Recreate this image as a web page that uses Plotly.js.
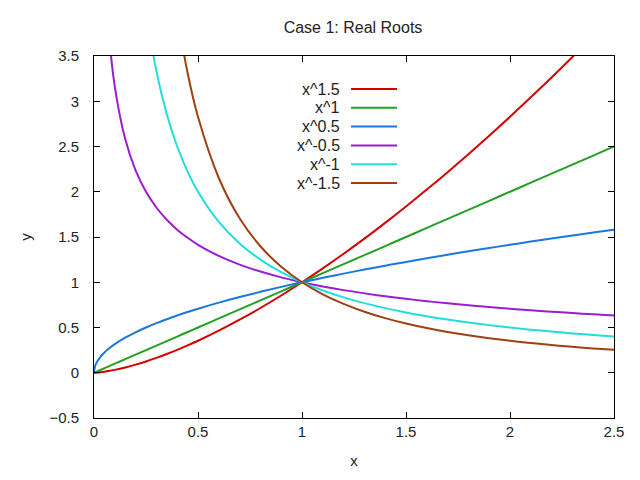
<!DOCTYPE html>
<html>
<head>
<meta charset="utf-8">
<script src="https://cdn.plot.ly/plotly-3.0.1.min.js"></script>
<style>html,body{margin:0;padding:0;background:#fff;}#chart{width:640px;height:480px;}</style>
</head>
<body>
<div id="chart"></div>
<script>
var xs = [0, 0.005, 0.01, 0.02, 0.03, 0.05, 0.07, 0.1, 0.15, 0.2, 0.25, 0.3, 0.35, 0.4, 0.45, 0.5, 0.6, 0.7, 0.8, 0.9, 1.0, 1.1, 1.2, 1.3, 1.4, 1.5, 1.6, 1.7, 1.8, 1.9, 2.0, 2.1, 2.2, 2.3, 2.4, 2.5];

var yP15 = [0, 0.00035, 0.001, 0.0028, 0.0052, 0.0112, 0.0185, 0.0316, 0.0581, 0.0894, 0.125, 0.1643, 0.2071, 0.2530, 0.3019, 0.3536, 0.4648, 0.5857, 0.7155, 0.8538, 1, 1.1537, 1.3145, 1.4823, 1.6565, 1.8371, 2.0238, 2.2165, 2.4149, 2.6190, 2.8284, 3.0431, 3.2630, 3.4882, 3.7181, 3.9528];
var yP10 = [0, 0.005, 0.01, 0.02, 0.03, 0.05, 0.07, 0.1, 0.15, 0.2, 0.25, 0.3, 0.35, 0.4, 0.45, 0.5, 0.6, 0.7, 0.8, 0.9, 1.0, 1.1, 1.2, 1.3, 1.4, 1.5, 1.6, 1.7, 1.8, 1.9, 2.0, 2.1, 2.2, 2.3, 2.4, 2.5];
var yP05 = [0, 0.0707, 0.1, 0.1414, 0.1732, 0.2236, 0.2646, 0.3162, 0.3873, 0.4472, 0.5, 0.5477, 0.5916, 0.6325, 0.6708, 0.7071, 0.7746, 0.8367, 0.8944, 0.9487, 1, 1.0488, 1.0954, 1.1402, 1.1832, 1.2247, 1.2649, 1.3038, 1.3416, 1.3784, 1.4142, 1.4491, 1.4832, 1.5166, 1.5492, 1.5811];
var yM05 = [null, null, null, null, null, 4.472, 3.780, 3.162, 2.582, 2.236, 2, 1.826, 1.690, 1.581, 1.491, 1.414, 1.291, 1.195, 1.118, 1.054, 1, 0.9535, 0.9129, 0.8771, 0.8452, 0.8165, 0.7906, 0.7670, 0.7454, 0.7255, 0.7071, 0.6901, 0.6742, 0.6594, 0.6455, 0.6325];
var yM10 = [null, null, null, null, null, null, null, null, null, null, 4, 3.333, 2.857, 2.5, 2.222, 2, 1.667, 1.429, 1.25, 1.111, 1, 0.9091, 0.8333, 0.7692, 0.7143, 0.6667, 0.625, 0.5882, 0.5556, 0.5263, 0.5, 0.4762, 0.4545, 0.4348, 0.4167, 0.4];
var yM15 = [null, null, null, null, null, null, null, null, null, null, null, null, null, 3.953, 3.313, 2.828, 2.152, 1.707, 1.398, 1.171, 1, 0.8668, 0.7607, 0.6746, 0.6037, 0.5443, 0.4941, 0.4512, 0.4141, 0.3818, 0.3536, 0.3286, 0.3065, 0.2867, 0.2690, 0.2530];

var names = ["x^1.5", "x^1", "x^0.5", "x^-0.5", "x^-1", "x^-1.5"];
var series = [yP15, yP10, yP05, yM05, yM10, yM15];
var colors = ["#d40000", "#22a022", "#1a78dc", "#9c1ccf", "#22dddd", "#a0400f"];

var traces = [];
for (var i = 0; i < series.length; i++) {
  traces.push({
    x: xs, y: series[i], name: names[i], type: "scatter", mode: "lines",
    yaxis: (i === series.length - 1) ? "y2" : "y",
    line: {color: colors[i], width: 2, shape: "spline", smoothing: 1},
    connectgaps: false, showlegend: false, hoverinfo: "skip"
  });
}

var fnt = {family: "Liberation Sans, Arial, sans-serif", size: 15, color: "#222"};
var legFnt = {family: "Liberation Sans, Arial, sans-serif", size: 16, color: "#222"};
var titleFnt = {family: "Liberation Sans, Arial, sans-serif", size: 16, color: "#222"};
var annotations = [], shapes = [];
var rowTop = 89, rowStep = 18.8;
for (var j = 0; j < names.length; j++) {
  var py = rowTop + j * rowStep;
  var yp = (418 - py) / 362;
  annotations.push({
    xref: "paper", yref: "paper", x: (342 - 94) / 520, y: yp,
    xanchor: "right", yanchor: "middle", showarrow: false,
    text: names[j], font: legFnt
  });
  shapes.push({
    type: "line", xref: "paper", yref: "paper",
    x0: (351 - 94) / 520, x1: (397 - 94) / 520, y0: yp, y1: yp,
    line: {color: colors[j], width: 2}
  });
}

var axisCommon = {
  showline: true, mirror: "ticks", linecolor: "#000", linewidth: 1,
  ticks: "inside", ticklen: 6, tickcolor: "#000", tickwidth: 1,
  showgrid: false, zeroline: false, tickfont: fnt, dtick: 0.5
};

var layout = {
  width: 640, height: 480,
  margin: {l: 94, r: 26, t: 56, b: 62},
  paper_bgcolor: "#fff", plot_bgcolor: "#fff",
  title: {text: "Case 1: Real Roots", font: titleFnt, x: 353 / 640, xanchor: "center", y: 1 - 27 / 480, yanchor: "middle"},
  xaxis: Object.assign({}, axisCommon, {range: [0, 2.5], tick0: 0, title: {text: "x", font: fnt, standoff: 16}}),
  yaxis: Object.assign({}, axisCommon, {
    range: [-0.5, 3.5], tick0: -0.5, ticks: "outside", ticklen: 11, tickcolor: "rgba(0,0,0,0)",
    mirror: true, title: {text: "y", font: fnt, standoff: 14}
  }),
  yaxis2: Object.assign({}, axisCommon, {
    range: [-0.5, 3.5], tick0: -0.5, overlaying: "y", matches: "y", side: "left",
    showticklabels: false
  }),
  annotations: annotations, shapes: shapes, showlegend: false
};

Plotly.newPlot("chart", traces, layout, {displayModeBar: false, staticPlot: true});
</script>
</body>
</html>
